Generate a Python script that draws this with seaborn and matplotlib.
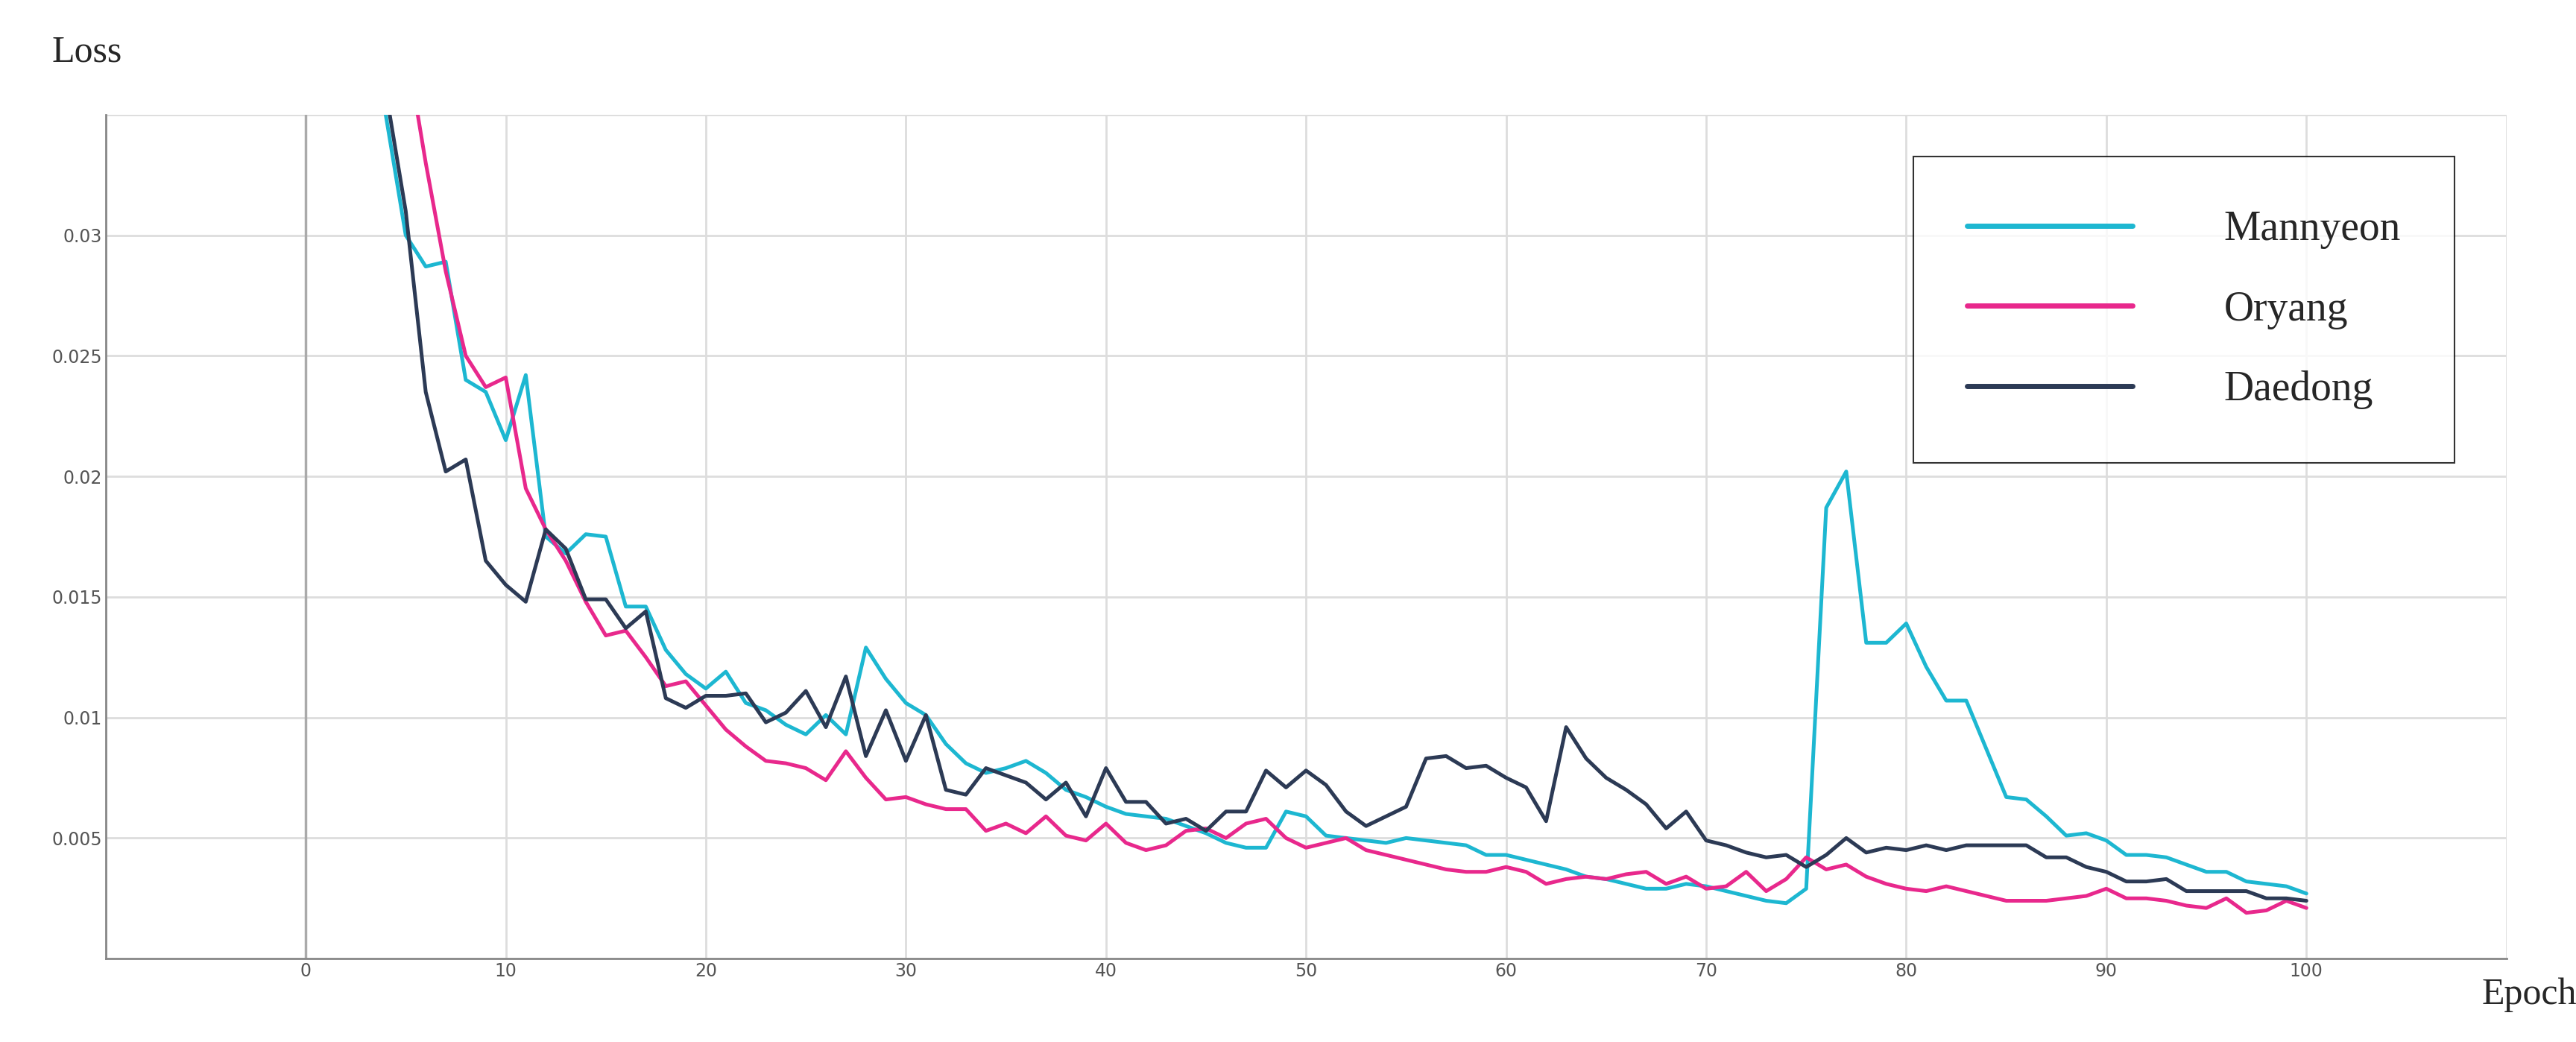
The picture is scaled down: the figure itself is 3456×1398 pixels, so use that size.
import numpy as np
import pandas as pd
import matplotlib
matplotlib.use("Agg")
import matplotlib.pyplot as plt
import seaborn as sns

epochs = list(range(4, 101))
mannyeon = [0.035, 0.030, 0.0287, 0.0289, 0.024, 0.0235, 0.0215, 0.0242, 0.0175, 0.0168,
            0.0176, 0.0175, 0.0146, 0.0146, 0.0128, 0.0118, 0.0112, 0.0119, 0.0106, 0.0103,
            0.0097, 0.0093, 0.0101, 0.0093, 0.0129, 0.0116, 0.0106, 0.0101, 0.0089, 0.0081,
            0.0077, 0.0079, 0.0082, 0.0077, 0.0070, 0.0067, 0.0063, 0.0060, 0.0059, 0.0058,
            0.0055, 0.0052, 0.0048, 0.0046, 0.0046, 0.0061, 0.0059, 0.0051, 0.0050, 0.0049,
            0.0048, 0.0050, 0.0049, 0.0048, 0.0047, 0.0043, 0.0043, 0.0041, 0.0039, 0.0037,
            0.0034, 0.0033, 0.0031, 0.0029, 0.0029, 0.0031, 0.0030, 0.0028, 0.0026, 0.0024,
            0.0023, 0.0029, 0.0187, 0.0202, 0.0131, 0.0131, 0.0139, 0.0121, 0.0107, 0.0107,
            0.0087, 0.0067, 0.0066, 0.0059, 0.0051, 0.0052, 0.0049, 0.0043, 0.0043, 0.0042,
            0.0039, 0.0036, 0.0036, 0.0032, 0.0031, 0.0030, 0.0027]
oryang = [0.045, 0.038, 0.033, 0.0285, 0.025, 0.0237, 0.0241, 0.0195, 0.0178, 0.0165,
          0.0148, 0.0134, 0.0136, 0.0125, 0.0113, 0.0115, 0.0105, 0.0095, 0.0088, 0.0082,
          0.0081, 0.0079, 0.0074, 0.0086, 0.0075, 0.0066, 0.0067, 0.0064, 0.0062, 0.0062,
          0.0053, 0.0056, 0.0052, 0.0059, 0.0051, 0.0049, 0.0056, 0.0048, 0.0045, 0.0047,
          0.0053, 0.0054, 0.0050, 0.0056, 0.0058, 0.0050, 0.0046, 0.0048, 0.0050, 0.0045,
          0.0043, 0.0041, 0.0039, 0.0037, 0.0036, 0.0036, 0.0038, 0.0036, 0.0031, 0.0033,
          0.0034, 0.0033, 0.0035, 0.0036, 0.0031, 0.0034, 0.0029, 0.0030, 0.0036, 0.0028,
          0.0033, 0.0042, 0.0037, 0.0039, 0.0034, 0.0031, 0.0029, 0.0028, 0.0030, 0.0028,
          0.0026, 0.0024, 0.0024, 0.0024, 0.0025, 0.0026, 0.0029, 0.0025, 0.0025, 0.0024,
          0.0022, 0.0021, 0.0025, 0.0019, 0.0020, 0.0024, 0.0021]
daedong = [0.036, 0.031, 0.0235, 0.0202, 0.0207, 0.0165, 0.0155, 0.0148, 0.0178, 0.0170,
           0.0149, 0.0149, 0.0137, 0.0144, 0.0108, 0.0104, 0.0109, 0.0109, 0.0110, 0.0098,
           0.0102, 0.0111, 0.0096, 0.0117, 0.0084, 0.0103, 0.0082, 0.0101, 0.0070, 0.0068,
           0.0079, 0.0076, 0.0073, 0.0066, 0.0073, 0.0059, 0.0079, 0.0065, 0.0065, 0.0056,
           0.0058, 0.0053, 0.0061, 0.0061, 0.0078, 0.0071, 0.0078, 0.0072, 0.0061, 0.0055,
           0.0059, 0.0063, 0.0083, 0.0084, 0.0079, 0.0080, 0.0075, 0.0071, 0.0057, 0.0096,
           0.0083, 0.0075, 0.0070, 0.0064, 0.0054, 0.0061, 0.0049, 0.0047, 0.0044, 0.0042,
           0.0043, 0.0038, 0.0043, 0.0050, 0.0044, 0.0046, 0.0045, 0.0047, 0.0045, 0.0047,
           0.0047, 0.0047, 0.0047, 0.0042, 0.0042, 0.0038, 0.0036, 0.0032, 0.0032, 0.0033,
           0.0028, 0.0028, 0.0028, 0.0028, 0.0025, 0.0025, 0.0024]

df = pd.DataFrame({"Epoch": epochs * 3,
                   "Loss": mannyeon + oryang + daedong,
                   "Site": ["Mannyeon"] * 97 + ["Oryang"] * 97 + ["Daedong"] * 97})

sns.set_style("whitegrid")
fig = plt.figure(figsize=(34.56, 13.98), dpi=100)
ax = fig.add_axes([0.041, 0.08, 0.932, 0.81])

palette = {"Mannyeon": "#1DB7D1", "Oryang": "#E8288C", "Daedong": "#2C3A55"}
sns.lineplot(data=df, x="Epoch", y="Loss", hue="Site", palette=palette, linewidth=3.6, ax=ax)

ax.set_xlim(-10, 110)
ax.set_ylim(0, 0.035)
ax.set_xticks(range(-10, 111, 10))
ax.set_xticklabels([""] + [str(v) for v in range(0, 101, 10)] + [""])
ax.set_yticks([0, 0.005, 0.01, 0.015, 0.02, 0.025, 0.03, 0.035])
ax.set_yticklabels(["", "0.005", "0.01", "0.015", "0.02", "0.025", "0.03", ""])
ax.tick_params(labelsize=17, colors="#555555", length=0)
ax.grid(color="#dddddd", linewidth=2)
ax.axvline(0, color="#aaaaaa", linewidth=2.5)
for s in ["left", "bottom"]:
    ax.spines[s].set_color("#888888")
    ax.spines[s].set_linewidth(2)
for s in ["top", "right"]:
    ax.spines[s].set_visible(False)
ax.set_xlabel("")
ax.set_ylabel("")

fig.text(0.02, 0.95, "Loss", family="Liberation Serif", fontsize=36, va="center")
fig.text(0.982, 0.045, "Epoch", family="Liberation Serif", fontsize=36, va="center", ha="center")

leg = ax.legend(loc="upper right", bbox_to_anchor=(0.987, 0.975), frameon=True, fancybox=False,
                prop={"family": "Liberation Serif", "size": 40}, handlelength=4.0,
                handletextpad=2.2, borderpad=1.3, labelspacing=1.0)
leg.get_frame().set_edgecolor("black")
leg.get_frame().set_linewidth(1.5)
for line in leg.get_lines():
    line.set_linewidth(5)

fig.savefig("out.png", dpi=100)
